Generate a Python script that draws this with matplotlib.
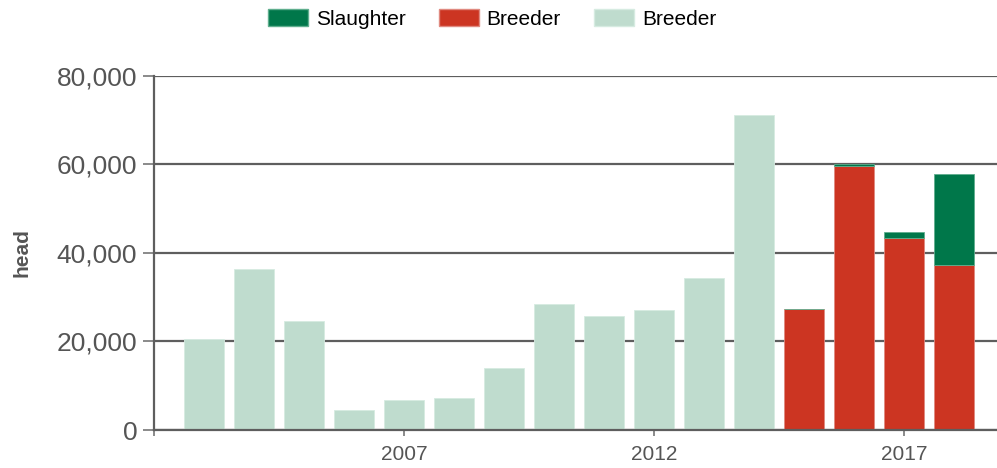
import matplotlib.pyplot as plt
from matplotlib.patches import Patch
from matplotlib.ticker import FuncFormatter

plt.rcParams['font.family'] = ['Liberation Sans', 'DejaVu Sans']

# light green "Breeder" series, 2003-2014
early_years = [2003, 2004, 2005, 2006, 2007, 2008, 2009, 2010, 2011, 2012, 2013, 2014]
early_breeder = [20500, 36300, 24500, 4500, 6700, 7300, 14000, 28400, 25700, 27200, 34400, 71100]

# red breeder + green slaughter, 2015-2018
late_years = [2015, 2016, 2017, 2018]
late_breeder = [27300, 59700, 43400, 37200]
late_slaughter = [0, 400, 1300, 20700]

c_slaughter = '#00774a'
c_breeder = '#cc3522'
c_light = '#bfdcce'
grey = '#555555'

fig = plt.figure(figsize=(9.97, 4.68), dpi=100)
ax = fig.add_axes([154 / 997, 38 / 468, 843 / 997, 354.3 / 468])

ax.bar(early_years, early_breeder, width=0.8, color=c_light, edgecolor='#d6ebe1', linewidth=0.6, zorder=3)
ax.bar(late_years, late_breeder, width=0.8, color=c_breeder, edgecolor='#e08a80', linewidth=0.6, zorder=3)
ax.bar(late_years, late_slaughter, width=0.8, bottom=late_breeder, color=c_slaughter,
       edgecolor='#5fae8e', linewidth=0.6, zorder=3)

ax.set_xlim(2002, 2018.85)
ax.set_ylim(0, 80000)
ax.set_yticks([0, 20000, 40000, 60000, 80000])
ax.yaxis.set_major_formatter(FuncFormatter(lambda v, p: f'{int(v):,}'))
ax.set_xticks([2002, 2007, 2012, 2017])
ax.set_xticklabels(['', '2007', '2012', '2017'])

ax.grid(axis='y', color='#5e5e5e', linewidth=1.6, zorder=1)
ax.set_axisbelow(True)
for s in ['top', 'right']:
    ax.spines[s].set_visible(False)
for s in ['left', 'bottom']:
    ax.spines[s].set_color('#5e5e5e')
    ax.spines[s].set_linewidth(1.6)
    ax.spines[s].set_zorder(4)

ax.tick_params(axis='y', length=8, width=1.2, color='#777777', pad=4, labelsize=19, labelcolor=grey)
ax.tick_params(axis='x', length=4, width=1.2, color='#777777', pad=7, labelsize=15, labelcolor=grey)

ax.set_ylabel('head', fontsize=15, fontweight='bold', color=grey, labelpad=18)

handles = [Patch(facecolor=c_slaughter, edgecolor='#5fae8e', label='Slaughter'),
           Patch(facecolor=c_breeder, edgecolor='#e08a80', label='Breeder'),
           Patch(facecolor=c_light, edgecolor='#d6ebe1', label='Breeder')]
fig.legend(handles=handles, loc='center', bbox_to_anchor=(492 / 997, 1 - 19 / 468), ncol=3,
           frameon=False, fontsize=15, handlelength=1.92, handleheight=0.91,
           handletextpad=0.38, columnspacing=1.6)

plt.savefig('out.png', dpi=100)
